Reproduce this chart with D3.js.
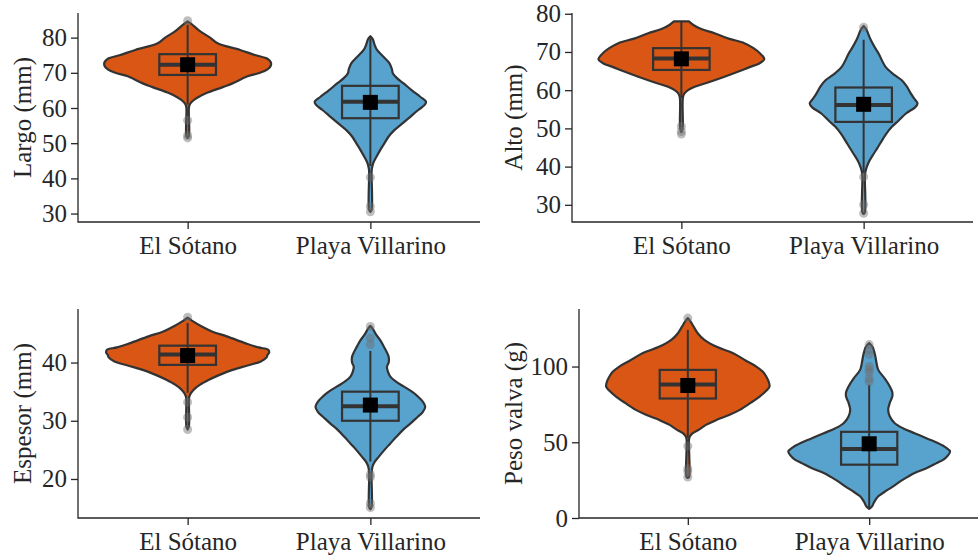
<!DOCTYPE html>
<html>
<head>
<meta charset="utf-8">
<script src="https://cdn.jsdelivr.net/npm/d3@7/dist/d3.min.js"></script>
<style>
  html, body { margin: 0; padding: 0; background: #fff; }
  svg { display: block; font-family: "Liberation Serif", "Times New Roman", serif; }
</style>
</head>
<body>
<svg id="chart" width="979" height="558"></svg>
<script>
var categories = ['El Sótano', 'Playa Villarino'];
var fills = ['#da5614', '#58a2ce'];

var measureLabels = ['Largo (mm)', 'Alto (mm)', 'Espesor (mm)', 'Peso valva (g)'];
var yTicks = [[30, 40, 50, 60, 70, 80], [30, 40, 50, 60, 70, 80], [20, 30, 40], [0, 50, 100]];
var yDomains = [[27.6, 87], [25.5, 80.2], [13.3, 49.2], [0, 138]];

// violin outlines: [value, relative half-width]
var largoSotano = [[84.6,0],[84,0.04],[82,0.14],[80,0.27],[78.4,0.36],[76.5,0.63],[75,0.82],[74,0.96],[73,1],[72,1],[71,0.96],[70,0.87],[69,0.72],[67,0.54],[66,0.43],[64.2,0.22],[63,0.12],[62,0.06],[61,0.025],[60,0.015],[52,0.015],[51.5,0]];
var largoVillarino = [[80.4,0],[79.5,0.03],[78,0.05],[76.5,0.08],[74.5,0.16],[72.7,0.23],[71,0.26],[69.9,0.27],[68.5,0.32],[67,0.4],[65,0.5],[63.2,0.6],[61.8,0.67],[60.8,0.65],[59.5,0.58],[57.5,0.48],[55.7,0.39],[53.5,0.28],[51.9,0.22],[50,0.17],[48.1,0.12],[46,0.07],[44.4,0.036],[43,0.02],[42,0.015],[31,0.015],[30.5,0]];
var altoSotano = [[78,0.09],[77,0.15],[76,0.24],[74.9,0.4],[73.5,0.57],[72.3,0.76],[71,0.87],[69.6,0.95],[68.1,1],[67,0.94],[66.1,0.83],[64.8,0.68],[63.5,0.52],[62,0.32],[60.9,0.16],[60,0.08],[59.1,0.035],[58,0.018],[50,0.015],[49,0]];
var altoVillarino = [[76.8,0],[76,0.03],[73.2,0.085],[71,0.14],[69.6,0.18],[66.1,0.265],[64,0.37],[62.6,0.46],[61,0.52],[59.1,0.57],[57.5,0.62],[56.5,0.65],[55.5,0.62],[53.9,0.51],[52,0.42],[50.4,0.34],[48.5,0.27],[46.8,0.22],[45,0.17],[43.3,0.12],[41.5,0.07],[39.8,0.036],[38.5,0.02],[37.2,0.015],[28,0.015],[27.6,0]];
var espesorSotano = [[47.7,0],[47.2,0.05],[46.2,0.17],[45.3,0.3],[44.5,0.47],[43.3,0.7],[42.6,0.85],[42.2,0.97],[41.7,0.98],[41.3,0.96],[40.9,0.95],[40.2,0.88],[39.5,0.72],[38.7,0.53],[37.8,0.37],[37,0.25],[36.2,0.15],[35.3,0.07],[34.5,0.03],[34,0.018],[29,0.015],[28.5,0]];
var espesorVillarino = [[46.3,0],[45.8,0.03],[45,0.06],[43.8,0.12],[42.8,0.16],[41,0.22],[40,0.22],[39.3,0.2],[38.5,0.21],[37.6,0.24],[36.8,0.3],[35.9,0.4],[35,0.5],[34.2,0.57],[33.3,0.63],[32.4,0.66],[31.5,0.63],[30.7,0.57],[29.5,0.48],[28.4,0.39],[27.2,0.31],[26.1,0.24],[25,0.17],[23.8,0.1],[22.9,0.05],[22.1,0.025],[21,0.015],[15.2,0.015],[14.8,0]];
var pesoSotano = [[132,0],[130,0.03],[126.4,0.07],[122,0.12],[117.6,0.2],[113,0.35],[108.8,0.55],[104,0.7],[100,0.83],[96.5,0.91],[93.4,0.95],[90,0.98],[86.8,0.99],[84,0.95],[80.2,0.87],[76,0.76],[71.4,0.63],[68,0.5],[64.8,0.35],[61.5,0.22],[58.2,0.13],[56,0.06],[53.8,0.025],[52,0.015],[27,0.015],[26.4,0]];
var pesoVillarino = [[115.5,0],[113,0.04],[110,0.06],[106.6,0.075],[102,0.09],[97.8,0.11],[92,0.19],[86.8,0.25],[83,0.28],[80.2,0.28],[76,0.25],[71.4,0.23],[67,0.25],[62.6,0.31],[59,0.42],[56,0.55],[52.5,0.7],[49.5,0.83],[46.5,0.93],[44,0.98],[41,0.95],[38.5,0.9],[36.3,0.82],[33,0.7],[29.7,0.55],[25,0.4],[20.9,0.29],[17,0.18],[14.3,0.11],[10.5,0.06],[7.7,0.035],[6,0]];

// box stats per panel: [El Sótano, Playa Villarino]
var largoBoxes = [
  { q1: 69.4, med: 72.3, q3: 75.3, lo: 61, hi: 83.6, mean: 72.3, out: [84.8, 56.5, 52.2, 51.5] },
  { q1: 57.1, med: 61.8, q3: 66.3, lo: 43.5, hi: 79.8, mean: 61.6, out: [40.3, 32, 30.5] }
];
var altoBoxes = [
  { q1: 65.3, med: 68.3, q3: 71, lo: 58, hi: 78, mean: 68.2, out: [50.5, 49.2, 48.5] },
  { q1: 51.7, med: 56.1, q3: 60.7, lo: 38.2, hi: 73.2, mean: 56.3, out: [76.5, 37.3, 30, 27.8] }
];
var espesorBoxes = [
  { q1: 39.6, med: 41.4, q3: 42.9, lo: 34.8, hi: 46.8, mean: 41.2, out: [47.8, 33.2, 30.6, 28.5] },
  { q1: 30.0, med: 32.5, q3: 35.0, lo: 23, hi: 42, mean: 32.7, out: [46.2, 44.2, 43.1, 20.8, 20.3, 15.8, 15.1] }
];
var pesoBoxes = [
  { q1: 78.9, med: 88.1, q3: 97.8, lo: 53, hi: 124.2, mean: 87.5, out: [132, 47.5, 32.5, 30.5, 27] },
  { q1: 35.2, med: 45.5, q3: 56.9, lo: 6.6, hi: 88, mean: 49, out: [114.5, 111, 108, 100, 98, 96, 92, 90] }
];

var violins = [[largoSotano, largoVillarino], [altoSotano, altoVillarino], [espesorSotano, espesorVillarino], [pesoSotano, pesoVillarino]];
var boxes = [largoBoxes, altoBoxes, espesorBoxes, pesoBoxes];

var frames = [
  { l: 78, r: 480, t: 13, b: 222, labelX: 22 },
  { l: 572, r: 973, t: 13, b: 222, labelX: 513 },
  { l: 78, r: 480, t: 309, b: 518, labelX: 22 },
  { l: 579, r: 978, t: 309, b: 518, labelX: 513 }
];

var ink = '#262626';
var edge = '#333333';
var svg = d3.select('#chart');

frames.forEach(function (f, i) {
  var g = svg.append('g');
  var x = d3.scalePoint().domain(categories).range([f.l, f.r]).padding(0.6);
  var y = d3.scaleLinear().domain(yDomains[i]).range([f.b, f.t]);
  var halfMax = x.step() * 0.455;
  var boxHalf = x.step() * 0.155;

  categories.forEach(function (cat, j) {
    var cx = x(cat);
    var area = d3.area()
      .curve(d3.curveCatmullRom.alpha(0.5))
      .y(function (d) { return y(d[0]); })
      .x0(function (d) { return cx - d[1] * halfMax; })
      .x1(function (d) { return cx + d[1] * halfMax; });

    g.append('path')
      .attr('d', area(violins[i][j]))
      .attr('fill', fills[j])
      .attr('stroke', edge)
      .attr('stroke-width', 2.2)
      .attr('stroke-linejoin', 'round');

    var s = boxes[i][j];
    g.append('line')
      .attr('x1', cx).attr('x2', cx)
      .attr('y1', y(s.lo)).attr('y2', y(s.hi))
      .attr('stroke', edge).attr('stroke-width', 2);

    g.append('rect')
      .attr('x', cx - boxHalf).attr('width', boxHalf * 2)
      .attr('y', y(s.q3)).attr('height', y(s.q1) - y(s.q3))
      .attr('fill', 'none')
      .attr('stroke', edge).attr('stroke-width', 2.2);

    g.append('line')
      .attr('x1', cx - boxHalf).attr('x2', cx + boxHalf)
      .attr('y1', y(s.med)).attr('y2', y(s.med))
      .attr('stroke', edge).attr('stroke-width', 4);

    g.append('rect')
      .attr('x', cx - 7.5).attr('y', y(s.mean) - 7.5)
      .attr('width', 15).attr('height', 15)
      .attr('fill', '#000');

    g.selectAll(null)
      .data(s.out)
      .join('circle')
      .attr('cx', cx)
      .attr('cy', function (d) { return y(d); })
      .attr('r', 4.5)
      .attr('fill', '#6e6e6e')
      .attr('fill-opacity', 0.45);
  });

  var yAxis = g.append('g')
    .attr('transform', 'translate(' + f.l + ',0)')
    .call(d3.axisLeft(y).tickValues(yTicks[i]).tickSize(7).tickPadding(4).tickFormat(d3.format('d')));
  var xAxis = g.append('g')
    .attr('transform', 'translate(0,' + f.b + ')')
    .call(d3.axisBottom(x).tickSize(7).tickPadding(7));

  [yAxis, xAxis].forEach(function (ax) {
    ax.select('.domain').remove();
    ax.selectAll('line').attr('stroke', ink).attr('stroke-width', 1.3);
    ax.selectAll('text').attr('fill', ink).attr('font-size', 25)
      .attr('font-family', '"Liberation Serif", "Times New Roman", serif');
  });

  g.append('path')
    .attr('d', 'M' + f.l + ',' + f.t + 'V' + f.b + 'H' + f.r)
    .attr('fill', 'none')
    .attr('stroke', ink)
    .attr('stroke-width', 1.3);

  g.append('text')
    .attr('transform', 'translate(' + f.labelX + ',' + (f.t + f.b) / 2 + ') rotate(-90)')
    .attr('text-anchor', 'middle')
    .attr('dominant-baseline', 'central')
    .attr('fill', ink)
    .attr('font-size', 25)
    .text(measureLabels[i]);
});
</script>
</body>
</html>
